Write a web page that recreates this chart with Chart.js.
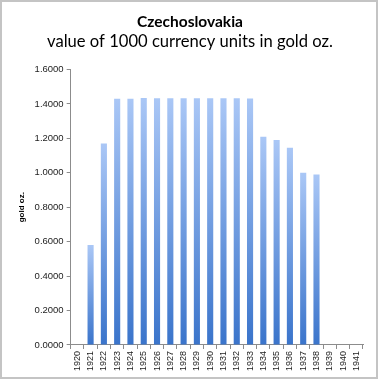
<!DOCTYPE html>
<html>
<head>
<meta charset="utf-8">
<script src="https://cdn.jsdelivr.net/npm/chart.js@4"></script>
<style>
    html, body { margin: 0; padding: 0; background: #fff; }
    .frame {
        position: relative;
        width: 374px;
        height: 375px;
        border: 2px solid #c4c4c4;
        background: #fff;
    }
</style>
</head>
<body>
<div class="frame">
    <canvas id="chart-czech" width="374" height="375"></canvas>
</div>
<script>
// data
const years = ["1920", "1921", "1922", "1923", "1924", "1925", "1926", "1927", "1928", "1929", "1930",
    "1931", "1932", "1933", "1934", "1935", "1936", "1937", "1938", "1939", "1940", "1941"];
const goldValues = [null, 0.58, 1.17, 1.43, 1.43, 1.435, 1.433, 1.433, 1.433, 1.433, 1.433,
    1.433, 1.433, 1.432, 1.21, 1.19, 1.145, 1.0, 0.99, null, null, null];
const yTicks = ["0.0000", "0.2000", "0.4000", "0.6000", "0.8000", "1.0000", "1.2000", "1.4000", "1.6000"];

const titleText = "Czechoslovakia";
const subtitleText = "value of 1000 currency units in gold oz.";
const yAxisTitle = "gold oz.";

// gradient per batang, terang di atas, gelap di bawah
function barGradient(ctx) {
    const chart = ctx.chart;
    const yScale = chart.scales.y;
    if (!yScale || ctx.raw == null) return "#6f9be0";
    const top = yScale.getPixelForValue(ctx.raw);
    const base = yScale.getPixelForValue(0);
    const g = chart.ctx.createLinearGradient(0, top, 0, base);
    g.addColorStop(0, "rgb(170, 199, 246)");
    g.addColorStop(1, "rgb(58, 116, 203)");
    return g;
}

function initChart() {
    const canvas = document.getElementById("chart-czech");

    const config = {
        type: "bar",
        data: {
            labels: years,
            datasets: [
                {
                    label: yAxisTitle,
                    data: goldValues,
                    backgroundColor: barGradient,
                    borderWidth: 0,
                    categoryPercentage: 1,
                    barPercentage: 0.46,
                },
            ],
        },
        options: {
            responsive: false,
            animation: false,
            layout: { padding: { left: 15, right: 13, top: 9, bottom: 4 } },
            plugins: {
                legend: { display: false },
                tooltip: { enabled: false },
                title: {
                    display: true,
                    text: titleText,
                    color: "#000",
                    font: { family: "Lato", size: 15.5, weight: "bold" },
                    padding: { top: 2, bottom: 0 },
                },
                subtitle: {
                    display: true,
                    text: subtitleText,
                    color: "#000",
                    font: { family: "Lato", size: 16.6, weight: "normal" },
                    padding: { top: 0, bottom: 18 },
                },
            },
            scales: {
                x: {
                    grid: {
                        display: true,
                        drawOnChartArea: false,
                        drawTicks: true,
                        tickLength: 4,
                        color: "#8c8c8c",
                    },
                    border: { display: true, color: "#8c8c8c" },
                    ticks: {
                        autoSkip: false,
                        maxRotation: 90,
                        minRotation: 90,
                        padding: 2,
                        color: "#222",
                        font: { family: "Liberation Sans", size: 9 },
                    },
                },
                y: {
                    min: 0,
                    max: 1.6,
                    ticks: {
                        stepSize: 0.2,
                        padding: 3,
                        color: "#222",
                        font: { family: "Liberation Sans", size: 9.5 },
                        callback: (value, i) => yTicks[i],
                    },
                    grid: {
                        display: true,
                        drawOnChartArea: false,
                        drawTicks: true,
                        tickLength: 4,
                        color: "#8c8c8c",
                    },
                    border: { display: true, color: "#8c8c8c" },
                    title: {
                        display: true,
                        text: yAxisTitle,
                        color: "#000",
                        font: { family: "Liberation Sans", size: 8, weight: "bold" },
                        padding: { top: 0, bottom: 5 },
                    },
                },
            },
        },
    };

    canvas.chart = new Chart(canvas, config);
}

document.addEventListener("DOMContentLoaded", () => {
    initChart();
});
</script>
</body>
</html>
